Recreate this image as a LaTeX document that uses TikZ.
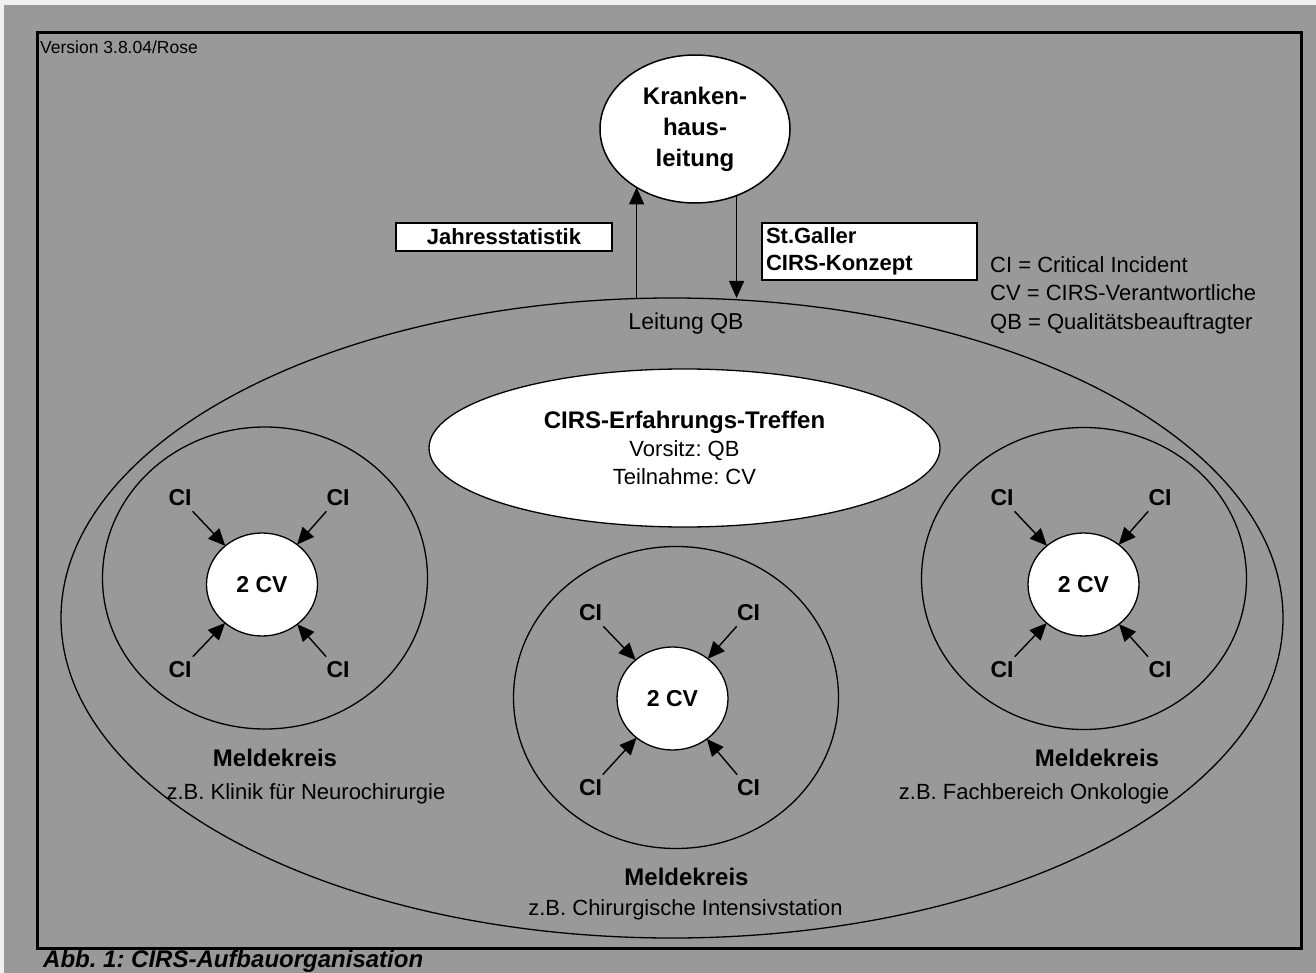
\documentclass[tikz,border=0pt]{standalone}
\usepackage{fontspec}
\setmainfont{Liberation Sans}
\usetikzlibrary{shapes.geometric,arrows.meta}
\definecolor{bgout}{RGB}{240,240,240}
\definecolor{bggray}{RGB}{153,153,153}
\begin{document}
\frenchspacing
\begin{tikzpicture}[x=1pt,y=-1pt,
  thin/.style={line width=1.3pt},
  ell/.style={shape=ellipse,draw=black,thin,inner sep=0pt,outer sep=0pt},
  whiteell/.style={ell,fill=white},
  cvnode/.style={whiteell,minimum width=111pt,minimum height=103pt,font=\fontsize{23}{28}\selectfont\bfseries},
  kreis/.style={ell,minimum width=325pt,minimum height=302pt},
  ci/.style={font=\fontsize{23}{28}\selectfont\bfseries,inner sep=5pt},
  arr/.style={-{Triangle[length=17pt,width=15pt]},line width=1.4pt},
  reg/.style={font=\fontsize{22}{28}\selectfont},
  bld/.style={font=\fontsize{24}{28}\selectfont\bfseries},
  box/.style={draw=black,fill=white,line width=1.4pt,outer sep=0pt,font=\fontsize{22}{27}\selectfont\bfseries}
]
\useasboundingbox (0,0) rectangle (1316,973);
\fill[bgout] (0,0) rectangle (1316,973);
\fill[bggray] (4,5) rectangle (1316,973);
\draw[line width=3pt] (37,33) rectangle (1301.5,948);

\node[anchor=base west,font=\fontsize{17.5}{20}\selectfont,inner sep=0pt] (ver) at (40,54) {Version 3.8.04/Rose};

% big ellipse
\node[ell,minimum width=1222pt,minimum height=640pt] (bigE) at (672,618) {};
\node[anchor=base,font=\fontsize{23}{28}\selectfont,inner sep=0pt] (lqb) at (686,330) {Leitung QB};

% top ellipse
\node[whiteell,line width=1.5pt,minimum width=190pt,minimum height=148pt,align=center,
      font=\fontsize{24}{31}\selectfont\bfseries] (kh) at (695,129) {Kranken-\\haus-\\leitung};

\draw[arr] (bigE.north -| kh.225) -- (kh.225);
\draw[arr] (kh.302) -- (kh.302 |- bigE.north);

\node[box,minimum width=216pt,minimum height=28pt,inner sep=0pt] (js) at (504,237) {Jahresstatistik};
\node[box,text width=207pt,align=left,minimum height=57pt,inner sep=4pt] (sg) at (869.5,251.5) {St.Galler\\CIRS-Konzept};

\node[reg,anchor=base west,inner sep=0pt] (lg1) at (990,273) {CI = Critical Incident};
\node[reg,anchor=base west,inner sep=0pt] (lg2) at (990,301) {CV = CIRS-Verantwortliche};
\node[reg,anchor=base west,inner sep=0pt] (lg3) at (990,329) {QB = Qualitätsbeauftragter};

% CIRS meeting
\node[whiteell,minimum width=511pt,minimum height=158pt,align=center,reg] (erf) at (684.5,448)
  {{\fontsize{24}{28}\selectfont\bfseries CIRS-Erfahrungs-Treffen}\\Vorsitz: QB\\Teilnahme: CV};

% Meldekreise
\node[kreis] (mk1) at (265,578) {};
\node[kreis] (mk2) at (676,697.5) {};
\node[kreis] (mk3) at (1084,578.5) {};

\node[cvnode] (cv1) at (262,584.5) {2 CV};
\node[cvnode] (cv2) at (672.5,698.5) {2 CV};
\node[cvnode] (cv3) at (1083.5,584.5) {2 CV};

% CI left
\node[ci] (c1a) at (180,498) {CI};
\node[ci] (c1b) at (338,498) {CI};
\node[ci] (c1c) at (180,670) {CI};
\node[ci] (c1d) at (338,670) {CI};
% CI middle
\node[ci] (c2a) at (590.5,613) {CI};
\node[ci] (c2b) at (748.5,613) {CI};
\node[ci] (c2c) at (590.5,788) {CI};
\node[ci] (c2d) at (748.5,788) {CI};
% CI right
\node[ci] (c3a) at (1002,498) {CI};
\node[ci] (c3b) at (1160,498) {CI};
\node[ci] (c3c) at (1002,670) {CI};
\node[ci] (c3d) at (1160,670) {CI};

\foreach \g in {1,2,3}{
  \foreach \k in {a,b,c,d}{
    \draw[arr] (c\g\k) -- (cv\g);
  }
}

% labels
\node[bld,anchor=base,inner sep=0pt] (ml1) at (275,766) {Meldekreis};
\node[reg,anchor=base,inner sep=0pt] (zb1) at (306,799) {z.B. Klinik für Neurochirurgie};
\node[bld,anchor=base,inner sep=0pt] (ml2) at (686.5,885) {Meldekreis};
\node[reg,anchor=base,inner sep=0pt] (zb2) at (685.5,915) {z.B. Chirurgische Intensivstation};
\node[bld,anchor=base,inner sep=0pt] (ml3) at (1097,766) {Meldekreis};
\node[reg,anchor=base,inner sep=0pt] (zb3) at (1034,799) {z.B. Fachbereich Onkologie};

\node[anchor=base west,inner sep=0pt,font=\fontsize{24}{28}\selectfont\bfseries\itshape] (cap) at (43,967) {Abb. 1: CIRS-Aufbauorganisation};
\end{tikzpicture}
\end{document}
